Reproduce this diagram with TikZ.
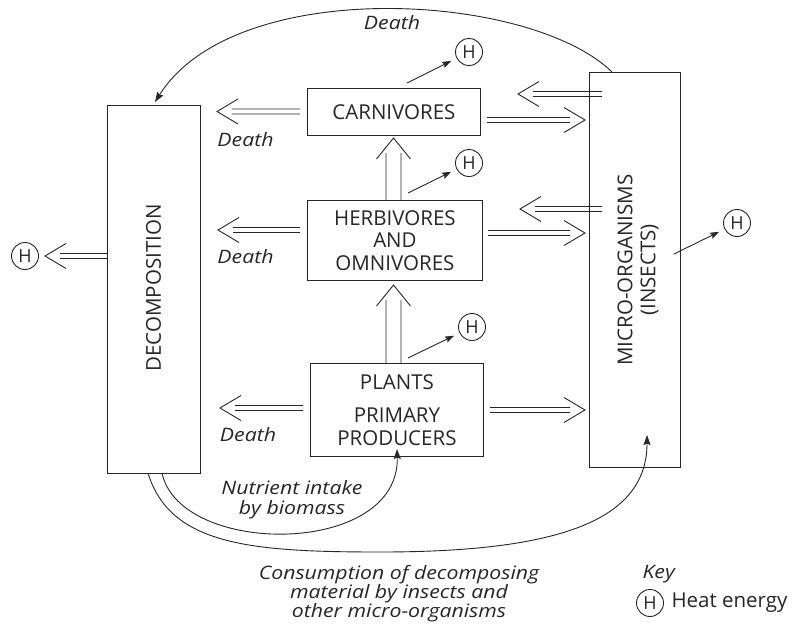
\documentclass[tikz,border=0pt]{standalone}
\usepackage{fontspec}
\setmainfont{Open Sans}
\newfontfamily\ifont{Open Sans}[FakeStretch=1.15]
\usetikzlibrary{arrows.meta,calc}
\definecolor{ink}{HTML}{262626}
\begin{document}
\begin{tikzpicture}[x=1pt,y=-1pt,
  ln/.style={draw=ink, line width=0.9pt},
  boxnode/.style={ln, inner sep=0pt, anchor=north west, align=center,
    font=\fontsize{20.5}{22.5}\selectfont, text=ink},
  lab/.style={font=\fontsize{20.5}{23}\selectfont, text=ink, align=center},
  ital/.style={font=\fontsize{18.5}{20}\ifont\itshape, text=ink, align=center},
  hnode/.style={circle, ln, minimum size=27pt, inner sep=0pt,
    font=\fontsize{18}{18}\selectfont, text=ink},
  heat/.style={ln, -{Stealth[length=9pt,width=6.5pt,inset=1.5pt]}, shorten >=6pt},
  curvearrow/.style={ln, -{Stealth[length=10pt,width=7pt,inset=1.5pt]}},
  dbl/.style 2 args={ln, to path={let \p1=(\tikztostart), \p2=(\tikztotarget),
      \n1={atan2(\y2-\y1,\x2-\x1)} in
      ($(\p1)+(\n1+90:#1)$) -- ($(\p2)+(\n1+180:15pt)+(\n1+90:#1)$)
      ($(\p1)+(\n1-90:#1)$) -- ($(\p2)+(\n1+180:15pt)+(\n1-90:#1)$)
      ($(\p2)+(\n1+180:21pt)+(\n1+90:#2)$) -- (\p2) -- ($(\p2)+(\n1+180:21pt)+(\n1-90:#2)$)}},
  hdbl/.style={dbl={2.5pt}{12.5pt}},
  vdbl/.style={dbl={7.5pt}{17pt}}
]
\useasboundingbox (0,0) rectangle (798,627);

% boxes
\node[boxnode, minimum width=93pt, minimum height=368pt] (decomp) at (107,105) {};
\node[lab, rotate=90] (decomptxt) at (153.5,288) {DECOMPOSITION};
\node[boxnode, minimum width=91pt, minimum height=395pt] (micro) at (589,72) {};
\node[lab, rotate=90] (microtxt) at (638,270) {MICRO-ORGANISMS\\(INSECTS)};
\node[boxnode, minimum width=173pt, minimum height=47pt] (carn) at (307,88) {CARNIVORES};
\node[boxnode, minimum width=175pt, minimum height=80pt] (herb) at (307,200) {HERBIVORES\\AND\\OMNIVORES};
\node[boxnode, minimum width=173pt, minimum height=93pt] (plants) at (310,363) {PLANTS\\[10.5pt]PRIMARY\\PRODUCERS};

% coordinates for double arrows
\coordinate (cLs) at (300,111.5); \coordinate (cL) at (217,111.5);
\coordinate (hLs) at (300,230);   \coordinate (hL) at (218,230);
\coordinate (pLs) at (303,408);   \coordinate (pL) at (220,408);
\coordinate (dHs) at (107,256);   \coordinate (dH) at (45,256);
\coordinate (cRs) at (487,120);   \coordinate (cR) at (585,120);
\coordinate (hRs) at (488,233);   \coordinate (hR) at (585,233);
\coordinate (pRs) at (490,410);   \coordinate (pR) at (585,410);
\coordinate (mCs) at (602,94);    \coordinate (mC) at (518,94);
\coordinate (mHs) at (602,209);   \coordinate (mH) at (520,209);
\coordinate (u1s) at (393.5,363); \coordinate (u1) at (393.5,285);
\coordinate (u2s) at (393.5,200); \coordinate (u2) at (393.5,138);

\draw[hdbl] (cLs) to (cL);
\draw[hdbl] (hLs) to (hL);
\draw[hdbl] (pLs) to (pL);
\draw[hdbl] (dHs) to (dH);
\draw[hdbl] (cRs) to (cR);
\draw[hdbl] (hRs) to (hR);
\draw[hdbl] (pRs) to (pR);
\draw[hdbl] (mCs) to (mC);
\draw[hdbl] (mHs) to (mH);
\draw[vdbl] (u1s) to (u1);
\draw[vdbl] (u2s) to (u2);

% heat
\node[hnode] (hC) at (469,52) {H};
\node[hnode] (hH) at (469,163) {H};
\node[hnode] (hP) at (472,327) {H};
\node[hnode] (hM) at (737,223) {H};
\node[hnode] (hD) at (25,256) {H};
\coordinate (hCs) at (407,83);
\coordinate (hHs) at (408,193);
\coordinate (hPs) at (408,358);
\coordinate (hMs) at (674,254);
\draw[heat] (hCs) -- (hC);
\draw[heat] (hHs) -- (hH);
\draw[heat] (hPs) -- (hP);
\draw[heat] (hMs) -- (hM);

% death labels
\node[ital] (d1) at (245.5,140) {Death};
\node[ital] (d2) at (245.5,257) {Death};
\node[ital] (d3) at (248,435) {Death};
\node[ital] (d0) at (392,23) {Death};

% curves
\coordinate (dst) at (612,72);
\coordinate (dend) at (155,102);
\draw[curvearrow] (dst) .. controls (530,-8) and (235,-25) .. (dend);

\coordinate (ns) at (162,473);
\coordinate (ne) at (397,449);
\draw[curvearrow] (ns) .. controls (180,557) and (400,557) .. (ne);

\coordinate (os) at (148,473);
\coordinate (om) at (380,552);
\coordinate (oe) at (647,435);
\draw[curvearrow] (os) .. controls (170,545) and (250,552) .. (om)
  .. controls (560,552) and (647,520) .. (oe);

\node[ital] (nut) at (292,500) {Nutrient intake\\by biomass};
\node[ital, font=\fontsize{18.5}{19}\ifont\itshape] (cons) at (399,594)
  {Consumption of decomposing\\material by insects and\\other micro-organisms};

% key
\node[ital, anchor=west] (key) at (639,574) {Key};
\node[hnode] (hK) at (650,603) {H};
\node[font=\fontsize{20.5}{20}\selectfont, text=ink, anchor=west] (heatlab) at (668,603) {Heat energy};
\end{tikzpicture}
\end{document}
